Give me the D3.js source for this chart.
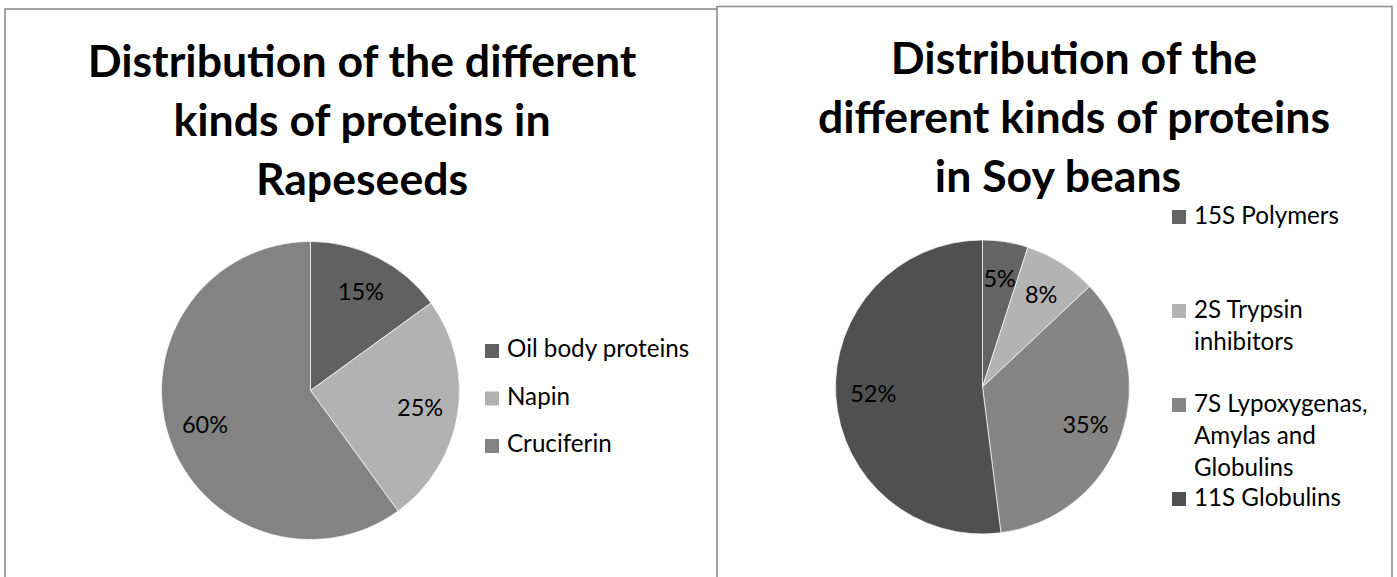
<!DOCTYPE html>
<html>
<head>
<meta charset="utf-8">
<script src="https://cdn.jsdelivr.net/npm/d3@7/dist/d3.min.js"></script>
<style>
  html, body { margin: 0; padding: 0; background: #ffffff; }
  svg { display: block; }
  text { font-family: Lato, "Noto Sans", sans-serif; fill: #000; }
</style>
</head>
<body>
<svg id="chart" width="1397" height="577"></svg>
<script>
// ---- data ----
const rapeTitle = ["Distribution of the different", "kinds of proteins in", "Rapeseeds"];
const rapeCategories = ["Oil body proteins", "Napin", "Cruciferin"];
const rapeValues = [15, 25, 60];
const rapeColors = ["#616161", "#b2b2b2", "#838383"];

const soyTitle = ["Distribution of the", "different kinds of proteins", "in Soy beans"];
const soyCategories = ["15S Polymers", "2S Trypsin inhibitors", "7S Lypoxygenas, Amylas and Globulins", "11S Globulins"];
const soyLegendLines = [["15S Polymers"], ["2S Trypsin", "inhibitors"], ["7S Lypoxygenas,", "Amylas and", "Globulins"], ["11S Globulins"]];
const soyValues = [5, 8, 35, 52];
const soyColors = ["#646464", "#b3b3b3", "#858585", "#505050"];

const svg = d3.select("#chart");

// panel borders
svg.append("rect").attr("x", 5).attr("y", 9).attr("width", 720).attr("height", 600)
  .attr("fill", "#fff").attr("stroke", "#8e8e8e").attr("stroke-width", 1.6);
svg.append("rect").attr("x", 717).attr("y", 6.5).attr("width", 675).attr("height", 600)
  .attr("fill", "#fff").attr("stroke", "#8e8e8e").attr("stroke-width", 1.6);

function drawPie(opts) {
  const g = svg.append("g");
  // title
  const t = g.append("text")
    .attr("text-anchor", "middle")
    .style("font-weight", "700")
    .style("font-size", opts.titleSize + "px");
  opts.title.forEach((line, i) => {
    t.append("tspan").attr("x", opts.titleX[i]).attr("y", opts.titleY0 + i * opts.titleStep).text(line);
  });

  const pie = d3.pie().sort(null).value(d => d.v);
  const data = pie(opts.values.map((v, i) => ({ v, c: opts.categories[i], col: opts.colors[i] })));
  const arc = d3.arc().innerRadius(0).outerRadius(opts.r);
  const labelArc = d3.arc().innerRadius(opts.r * opts.labelRatio).outerRadius(opts.r * opts.labelRatio);

  const pg = g.append("g").attr("transform", `translate(${opts.cx},${opts.cy})`);
  pg.selectAll("path").data(data).join("path")
    .attr("d", arc)
    .attr("fill", d => d.data.col)
    .attr("stroke", "#ffffff")
    .attr("stroke-width", 0.7);

  const fmt = d3.format(".0%");
  const total = d3.sum(opts.values);
  pg.selectAll("text.lbl").data(data).join("text")
    .attr("class", "lbl")
    .attr("transform", d => `translate(${labelArc.centroid(d)})`)
    .attr("text-anchor", "middle")
    .attr("dy", "0.36em")
    .style("font-size", opts.labelSize + "px")
    .text(d => fmt(d.data.v / total));

  // legend
  const lg = g.append("g");
  const yScale = d3.scaleLinear().domain([0, 1]).range([opts.legY0, opts.legY0 + opts.legStep]);
  opts.legendLines.forEach((lines, i) => {
    const by = yScale(i);
    lg.append("rect")
      .attr("x", opts.legX).attr("y", by - opts.sq + opts.sqOff)
      .attr("width", opts.sq).attr("height", opts.sq)
      .attr("fill", opts.colors[i]);
    const tx = lg.append("text").style("font-size", opts.legSize + "px");
    lines.forEach((ln, j) => {
      tx.append("tspan").attr("x", opts.legX + opts.sq + 8).attr("y", by + j * opts.legLine).text(ln);
    });
  });
}

drawPie({
  title: rapeTitle, titleX: [362, 362, 362], titleY0: 77, titleStep: 59, titleSize: 44.6,
  categories: rapeCategories, values: rapeValues, colors: rapeColors,
  cx: 310.5, cy: 390.5, r: 149, labelRatio: 0.745, labelSize: 23.5,
  legendLines: rapeCategories.map(c => [c]),
  legX: 485, legY0: 357, legStep: 47.5, legLine: 32, sq: 14, sqOff: 1, legSize: 24.2
});

drawPie({
  title: soyTitle, titleX: [1074, 1074, 1058], titleY0: 74, titleStep: 59, titleSize: 44.6,
  categories: soyCategories, values: soyValues, colors: soyColors,
  cx: 982.5, cy: 387, r: 147, labelRatio: 0.745, labelSize: 23.5,
  legendLines: soyLegendLines,
  legX: 1172, legY0: 224, legStep: 94, legLine: 32, sq: 14, sqOff: 0, legSize: 24.2
});
</script>
</body>
</html>
